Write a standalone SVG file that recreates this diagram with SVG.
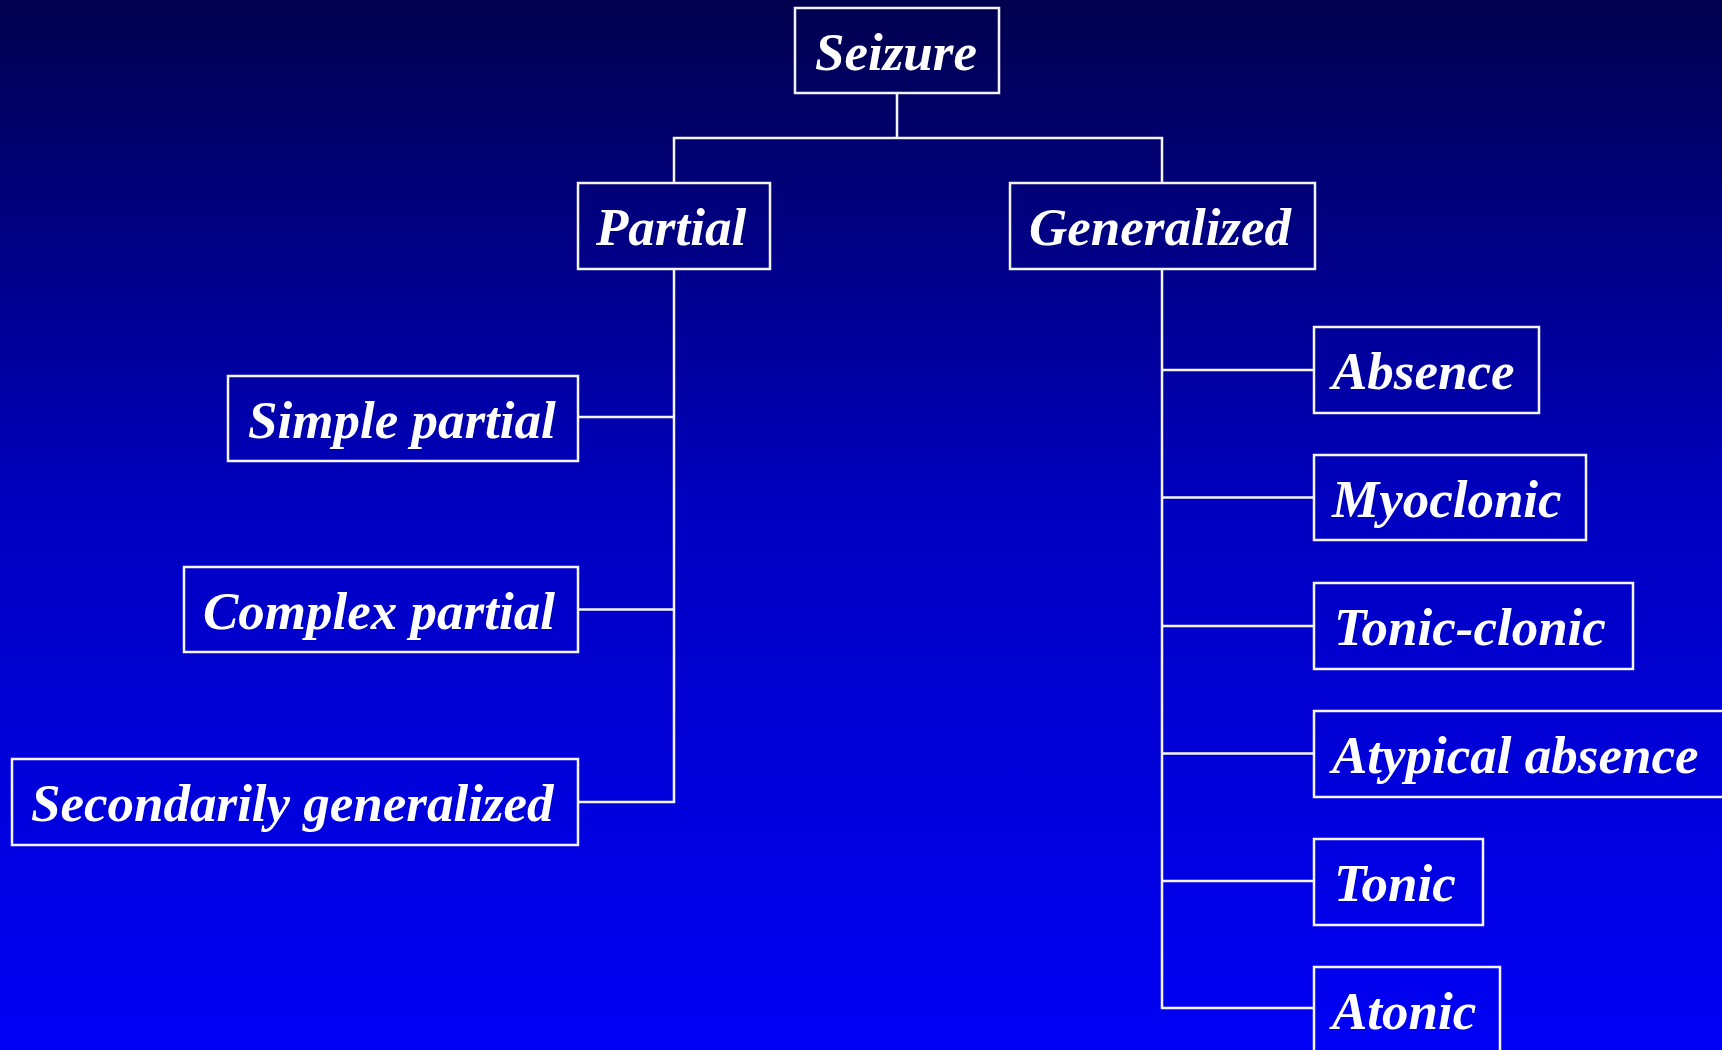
<svg xmlns="http://www.w3.org/2000/svg" width="1722" height="1050" viewBox="0 0 1722 1050">
  <defs>
    <linearGradient id="bg" x1="0" y1="0" x2="0" y2="1">
      <stop offset="0" stop-color="#00004E"/>
      <stop offset="0.48" stop-color="#0000C0"/>
      <stop offset="1" stop-color="#0000F5"/>
    </linearGradient>
  </defs>
  <style>
    .box { fill: none; stroke: #F4F4FF; stroke-width: 2.5; }
    .lbl { fill: #FFFFFF; font-family: "Liberation Serif", "Times New Roman", serif; font-weight: bold; font-style: italic; font-size: 53px; }
    .wire { fill: none; stroke: #F4F4FF; stroke-width: 2.5; }
  </style>

  <rect x="0" y="0" width="1722" height="1050" fill="url(#bg)"/>

  <!-- tree connectors -->
  <g id="connectors" class="wire">
    <path d="M897,93 V138 M674,182 V138 H1162 V182"/>
    <path d="M674,269 V802 H578 M674,417 H578 M674,609.5 H578"/>
    <path d="M1162,269 V1008 H1313 M1162,370 H1313 M1162,497.5 H1313 M1162,626 H1313 M1162,753.5 H1313 M1162,881 H1313"/>
  </g>

  <g id="seizure">
    <rect class="box" x="795" y="8" width="204" height="85"/>
    <text class="lbl" x="815" y="70">Seizure</text>
  </g>
  <g id="partial">
    <rect class="box" x="578" y="183" width="192" height="86"/>
    <text class="lbl" x="596" y="245">Partial</text>
  </g>
  <g id="generalized">
    <rect class="box" x="1010" y="183" width="305" height="86"/>
    <text class="lbl" x="1029" y="245">Generalized</text>
  </g>

  <g id="simple-partial">
    <rect class="box" x="228" y="376" width="350" height="85"/>
    <text class="lbl" x="248" y="438">Simple partial</text>
  </g>
  <g id="complex-partial">
    <rect class="box" x="184" y="567" width="394" height="85"/>
    <text class="lbl" x="203" y="629">Complex partial</text>
  </g>
  <g id="secondarily-generalized">
    <rect class="box" x="12" y="759" width="566" height="86"/>
    <text class="lbl" x="31" y="821">Secondarily generalized</text>
  </g>

  <g id="absence">
    <rect class="box" x="1314" y="327" width="225" height="86"/>
    <text class="lbl" x="1332" y="389">Absence</text>
  </g>
  <g id="myoclonic">
    <rect class="box" x="1314" y="455" width="272" height="85"/>
    <text class="lbl" x="1332" y="517">Myoclonic</text>
  </g>
  <g id="tonic-clonic">
    <rect class="box" x="1314" y="583" width="319" height="86"/>
    <text class="lbl" x="1334" y="645">Tonic-clonic</text>
  </g>
  <g id="atypical-absence">
    <rect class="box" x="1314" y="711" width="420" height="86"/>
    <text class="lbl" x="1332" y="773">Atypical absence</text>
  </g>
  <g id="tonic">
    <rect class="box" x="1314" y="839" width="169" height="86"/>
    <text class="lbl" x="1334" y="901">Tonic</text>
  </g>
  <g id="atonic">
    <rect class="box" x="1314" y="967" width="186" height="100"/>
    <text class="lbl" x="1332" y="1029">Atonic</text>
  </g>
</svg>
